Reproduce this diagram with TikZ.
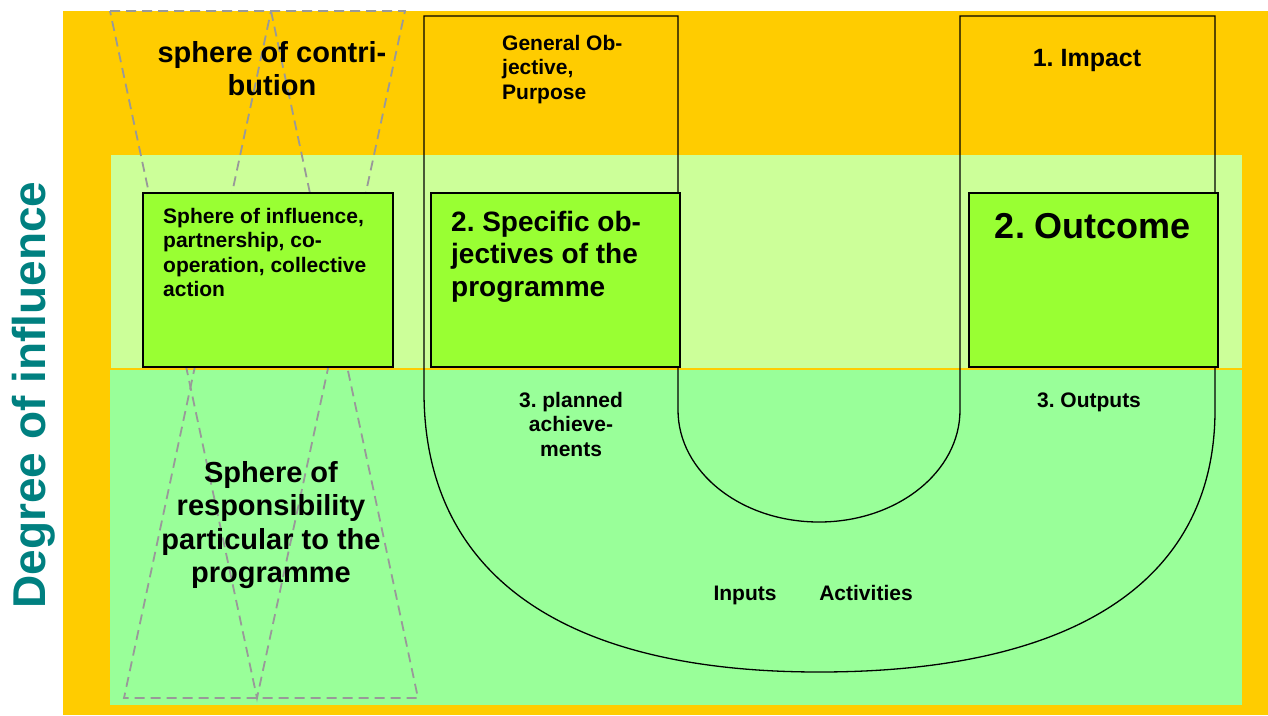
\documentclass[tikz,border=0pt]{standalone}
\usepackage{fontspec}
\setmainfont{Liberation Sans}
\usetikzlibrary{calc}
\usetikzlibrary{backgrounds}
\frenchspacing

\definecolor{sunorange}{HTML}{FFCC00}
\definecolor{palegreen}{HTML}{CCFF99}
\definecolor{mintgreen}{HTML}{99FF99}
\definecolor{boxgreen}{HTML}{99FF33}
\definecolor{degteal}{HTML}{008080}
\definecolor{dashgray}{HTML}{999999}

\begin{document}
\begin{tikzpicture}[x=1pt, y=-1pt,
    small/.style={font=\bfseries\fontsize{21}{24.5}\selectfont, inner sep=0pt},
    large/.style={font=\bfseries\fontsize{29}{33.5}\selectfont, inner sep=0pt},
    greenbox/.style={draw=black, line width=1.5pt, fill=boxgreen},
    sphereline/.style={draw=dashgray, line width=1.8pt, dash pattern=on 10pt off 6pt},
    uline/.style={draw=black, line width=1.3pt}]
      \path[use as bounding box] (0, 0) rectangle (1268, 715);

      \fill[sunorange] (63, 11) rectangle (1268, 715);
      \fill[palegreen] (111, 155) rectangle (1242, 368);
      \fill[mintgreen] (110, 370) rectangle (1242, 705);

      \draw[sphereline] (110, 11) -- (405, 11) -- (257, 698) -- cycle;
      \draw[sphereline] (271, 11) -- (418, 698) -- (124, 698) -- cycle;

      \draw[uline] (424, 16) -- (678, 16) -- (678, 410)
        .. controls (678, 472) and (741, 522) .. (819, 522)
        .. controls (897, 522) and (960, 472) .. (960, 410)
        -- (960, 16) -- (1215, 16) -- (1215, 410)
        .. controls (1215, 580) and (1076, 672) .. (819, 672)
        .. controls (562, 672) and (424, 574) .. (424, 392) -- cycle;

      \draw[greenbox] (143, 193) rectangle (393, 367);
      \draw[greenbox] (431, 193) rectangle (680, 367);
      \draw[greenbox] (969, 193) rectangle (1218, 367);

      \node[large, align=center, anchor=north] (contrib) at (272, 41)
        {sphere of contri-\\bution};
      \node[small, align=left, anchor=north west] (general) at (502, 35)
        {General Ob-\\jective,\\Purpose};
      \node[small, font=\bfseries\fontsize{25}{29}\selectfont, anchor=base] (impact) at (1087, 66) {1. Impact};

      \node[small, align=left, anchor=north west] (influence) at (163, 208)
        {Sphere of influence,\\partnership, co-\\operation, collective\\action};
      \node[large, font=\bfseries\fontsize{28}{32.5}\selectfont, align=left, anchor=north west] (specific) at (451, 211)
        {2. Specific ob-\\jectives of the\\programme};
      \node[large, font=\bfseries\fontsize{36}{40}\selectfont, anchor=base] (outcome) at (1093, 238) {2. Outcome};

      \node[small, align=center, anchor=north] (planned) at (571, 392)
        {3. planned\\achieve-\\ments};
      \node[small, anchor=base] (outputs) at (1089, 407) {3. Outputs};
      \node[large, align=center, anchor=north] (responsib) at (271, 461)
        {Sphere of\\responsibility\\particular to the\\programme};
      \node[small, anchor=base] (inputs) at (745, 600) {Inputs};
      \node[small, anchor=base] (activities) at (866, 600) {Activities};

      \node[rotate=90, anchor=base, text=degteal, inner sep=0pt,
        font=\bfseries\fontsize{46}{50}\selectfont] (degree) at (45, 395) {Degree of influence};
\end{tikzpicture}
\end{document}
